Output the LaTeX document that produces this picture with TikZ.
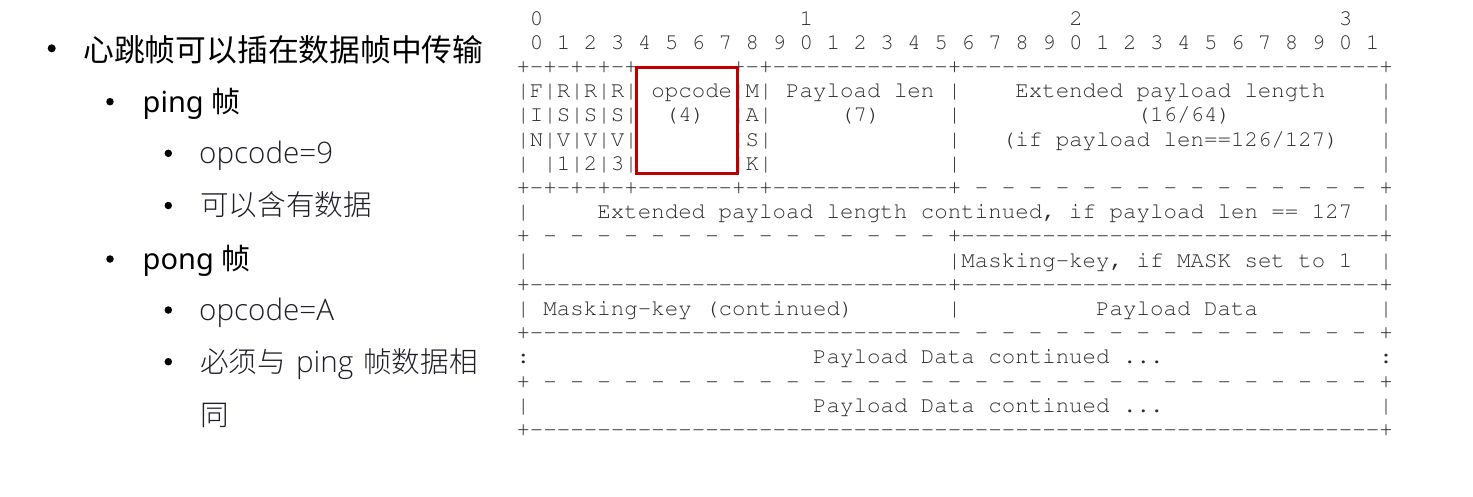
\documentclass[tikz,border=0pt]{standalone}
\usepackage[T1,TU]{fontenc}
\usepackage{fontspec}
\newfontfamily\cjk{Noto Sans CJK SC}
\newfontfamily\lat{Noto Sans}
\IfFontExistsTF{Noto Sans Light}{\newfontfamily\latlightface{Noto Sans Light}}{%
 \IfFontExistsTF{Open Sans Light}{\newfontfamily\latlightface{Open Sans Light}}{%
  \IfFontExistsTF{Lato Light}{\newfontfamily\latlightface{Lato Light}}{\newfontfamily\latlightface{Noto Sans}}}}
\newcommand\latlight{\latlightface\fontsize{29.6}{34}\selectfont}
\IfFontExistsTF{Noto Sans CJK SC Light}{\newfontfamily\cjklight{Noto Sans CJK SC Light}}{\newfontfamily\cjklight{Noto Sans CJK SC}}
\newcommand\courierart{\fontencoding{T1}\fontfamily{pcr}\fontseries{m}\fontshape{n}\fontsize{22.47}{24}\selectfont}
\definecolor{hlred}{RGB}{192,0,0}
\definecolor{artgray}{RGB}{45,45,45}
\definecolor{lvlthree}{RGB}{30,30,40}
\begingroup
\catcode`\ =\active%
\catcode`\-=\active%
\gdef {\ }%
\gdef-{\char45\kern0pt}%
\gdef\rowA{ 0                   1                   2                   3}%
\gdef\rowB{ 0 1 2 3 4 5 6 7 8 9 0 1 2 3 4 5 6 7 8 9 0 1 2 3 4 5 6 7 8 9 0 1}%
\gdef\rowC{+-+-+-+-+-------+-+-------------+-------------------------------+}%
\gdef\rowD{|F|R|R|R| opcode|M| Payload len |    Extended payload length    |}%
\gdef\rowE{|I|S|S|S|  (4)  |A|     (7)     |             (16/64)           |}%
\gdef\rowF{|N|V|V|V|       |S|             |   (if payload len==126/127)   |}%
\gdef\rowG{| |1|2|3|       |K|             |                               |}%
\gdef\rowH{+-+-+-+-+-------+-+-------------+ - - - - - - - - - - - - - - - +}%
\gdef\rowI{|     Extended payload length continued, if payload len == 127  |}%
\gdef\rowJ{+ - - - - - - - - - - - - - - - +-------------------------------+}%
\gdef\rowK{|                               |Masking-key, if MASK set to 1  |}%
\gdef\rowL{+-------------------------------+-------------------------------+}%
\gdef\rowM{| Masking-key (continued)       |          Payload Data         |}%
\gdef\rowN{+-------------------------------- - - - - - - - - - - - - - - - +}%
\gdef\rowO{:                     Payload Data continued ...                :}%
\gdef\rowP{+ - - - - - - - - - - - - - - - - - - - - - - - - - - - - - - - +}%
\gdef\rowQ{|                     Payload Data continued ...                |}%
\gdef\rowR{+---------------------------------------------------------------+}%
\endgroup
\begin{document}
\begin{tikzpicture}[x=1pt,y=-1pt,
  art/.style={anchor=base west,inner sep=0pt,font=\courierart,text=artgray},
  bul/.style={circle,fill=black,inner sep=0pt,minimum size=#1},
  lvlone/.style={anchor=base west,inner sep=0pt,font=\cjk\fontsize{30.8}{36}\selectfont,text=black},
  lvltwo/.style={anchor=base west,inner sep=0pt,font=\fontsize{29}{34}\selectfont,text=black},
  lvlthr/.style={anchor=base west,inner sep=0pt,font=\fontsize{28.6}{34}\selectfont,text=lvlthree}]
\useasboundingbox (0,0) rectangle (1473,496);
% left list
\node[bul=8pt] (b1) at (51.7,48.3) {};
\node[lvlone] (t1) at (83,61) {心跳帧可以插在数据帧中传输};
\node[bul=7.5pt] (b2) at (110,101.7) {};
\node[lvltwo] (t2) at (142.5,112.5) {\lat ping \cjk 帧};
\node[bul=7.5pt] (b3) at (168.3,153.3) {};
\node[lvlthr] (t3) at (199,163.5) {\latlight opcode=9};
\node[bul=7.5pt] (b4) at (168.3,205.5) {};
\node[lvlthr] (t4) at (200,215.5) {\cjklight 可以含有数据};
\node[bul=7.5pt] (b5) at (110,259) {};
\node[lvltwo] (t5) at (142.5,269) {\lat pong \cjk 帧};
\node[bul=7.5pt] (b6) at (168.3,310) {};
\node[lvlthr] (t6) at (199,320) {\latlight opcode=A};
\node[bul=7.5pt] (b7) at (168.3,361.7) {};
\node[lvlthr] (t7) at (200,372) {\cjklight 必须与\hspace{10pt}{\latlight ping}\hspace{10pt}帧数据相};
\node[lvlthr] (t8) at (200,425) {\cjklight 同};
% ascii frame
\node[art] (r0) at (516.3,25) {\rowA};
\node[art] (r1) at (516.3,49.2) {\rowB};
\node[art] (r2) at (516.3,73.4) {\rowC};
\node[art] (r3) at (516.3,97.6) {\rowD};
\node[art] (r4) at (516.3,121.8) {\rowE};
\node[art] (r5) at (516.3,146) {\rowF};
\node[art] (r6) at (516.3,170.2) {\rowG};
\node[art] (r7) at (516.3,194.4) {\rowH};
\node[art] (r8) at (516.3,218.6) {\rowI};
\node[art] (r9) at (516.3,242.8) {\rowJ};
\node[art] (r10) at (516.3,267) {\rowK};
\node[art] (r11) at (516.3,291.2) {\rowL};
\node[art] (r12) at (516.3,315.4) {\rowM};
\node[art] (r13) at (516.3,339.6) {\rowN};
\node[art] (r14) at (516.3,363.8) {\rowO};
\node[art] (r15) at (516.3,388) {\rowP};
\node[art] (r16) at (516.3,412.2) {\rowQ};
\node[art] (r17) at (516.3,436.4) {\rowR};
% highlight
\node[draw=hlred,line width=3pt,minimum width=101pt,minimum height=106pt,inner sep=0pt] (hl) at (687,120) {};
\end{tikzpicture}
\end{document}
